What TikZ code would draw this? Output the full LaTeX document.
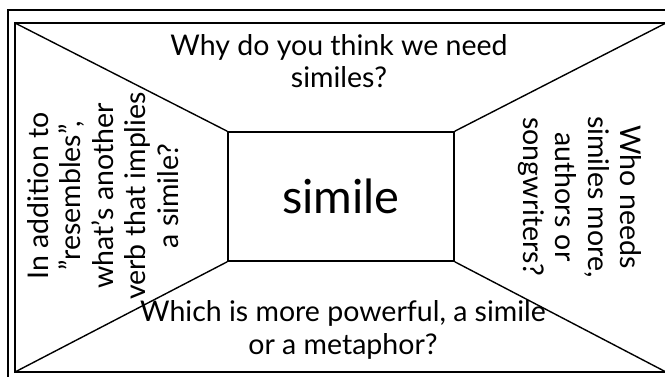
\documentclass[tikz,border=0pt]{standalone}
\usepackage{fontspec}
\setmainfont{Lato}
\begin{document}
\begin{tikzpicture}[x=1pt,y=-1pt,
  frame/.style={line width=1.6pt},
  edge/.style={line width=1.4pt},
  q/.style={align=center,font=\fontsize{28.5}{32.5}\selectfont,inner sep=0pt},
  core/.style={draw,line width=1.6pt,minimum width=226pt,minimum height=129pt,inner sep=0pt,font=\fontsize{47}{52}\selectfont}]
\useasboundingbox (0,0) rectangle (665,377);
\clip (0,0) rectangle (665,377);
\fill[white] (0,0) rectangle (665,377);
\coordinate (otl) at (8,10);
\coordinate (obr) at (690,395);
\coordinate (tl) at (15,23);
\coordinate (tr) at (666,23);
\coordinate (br) at (666,372);
\coordinate (bl) at (15,372);
\draw[frame] (otl) rectangle (obr);
\draw[frame] (tl) rectangle (668,372);
\node[core] (c) at (341,196.5) {simile};
\draw[edge] (tl) -- (c.north west);
\draw[edge] (tr) -- (c.north east);
\draw[edge] (br) -- (c.south east);
\draw[edge] (bl) -- (c.south west);
\node[q] (top) at (339,61) {Why do you think we need\\similes?};
\node[q] (bot) at (343,330) {Which is more powerful, a simile\\or a metaphor?};
\node[q,rotate=90] (left) at (103,196) {In addition to\\"resembles",\\what’s another\\verb that implies\\a simile?};
\node[q,rotate=-90] (right) at (580,197) {Who needs\\similes more,\\authors or\\songwriters?};
\end{tikzpicture}
\end{document}
